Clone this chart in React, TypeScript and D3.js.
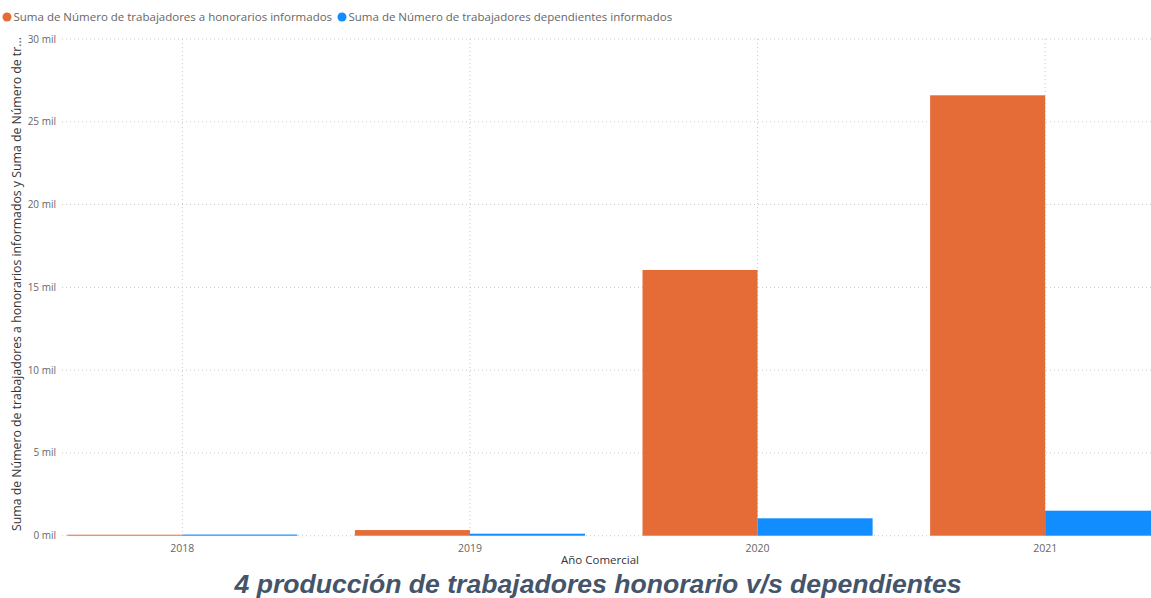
import React from "react";
import * as d3 from "d3";

const years = ["2018", "2019", "2020", "2021"];
const honorarios = [60, 340, 16050, 26600];
const dependientes = [70, 120, 1050, 1510];
const yTicks = [0, 5000, 10000, 15000, 20000, 25000, 30000];
const seriesNames = [
  "Suma de Número de trabajadores a honorarios informados",
  "Suma de Número de trabajadores dependientes informados",
];
const colors = ["#E66C37", "#118DFF"];

const W = 1151;
const H = 598;
const FONT = "'Segoe UI', 'Open Sans', 'Noto Sans', sans-serif";

export default function App() {
  const plotLeft = 62;
  const x = d3
    .scaleBand<string>()
    .domain(years)
    .range([38.5, 1189])
    .paddingInner(0.2)
    .paddingOuter(0.1);
  const y = d3.scaleLinear().domain([0, 30000]).range([535.7, 39]);
  const bw = x.bandwidth() / 2;
  const series = [honorarios, dependientes];

  return (
    <svg
      width={W}
      height={H}
      style={{ position: "absolute", left: 0, top: 0, background: "#fff" }}
      fontFamily={FONT}
    >
      {/* legend */}
      <g fontSize={11.5} fill="#666">
        <circle cx={7} cy={17} r={4.5} fill={colors[0]} />
        <text x={13.5} y={21}>{seriesNames[0]}</text>
        <circle cx={342} cy={17} r={4.5} fill={colors[1]} />
        <text x={348.5} y={21}>{seriesNames[1]}</text>
      </g>

      {/* horizontal gridlines */}
      {yTicks.map((t) => (
        <line
          key={"g" + t}
          x1={plotLeft}
          x2={W}
          y1={y(t)}
          y2={y(t)}
          stroke="#c8c8c8"
          strokeDasharray="1,3"
        />
      ))}
      {/* vertical gridlines */}
      {years.map((yr) => {
        const cx = (x(yr) as number) + x.bandwidth() / 2;
        return (
          <line
            key={"v" + yr}
            x1={cx}
            x2={cx}
            y1={y(30000)}
            y2={y(0)}
            stroke="#c8c8c8"
            strokeDasharray="1,3"
          />
        );
      })}

      {/* y tick labels */}
      <g fontSize={10} fill="#666" textAnchor="end">
        {yTicks.map((t) => (
          <text key={"t" + t} x={56} y={y(t) + 3.5}>
            {d3.format("d")(t / 1000) + " mil"}
          </text>
        ))}
      </g>

      {/* bars */}
      {series.map((vals, si) =>
        years.map((yr, i) => {
          const bx = (x(yr) as number) + si * bw;
          const top = y(vals[i]);
          return (
            <rect
              key={si + "-" + yr}
              x={bx}
              y={top}
              width={bw}
              height={y(0) - top}
              fill={colors[si]}
            />
          );
        })
      )}

      {/* x tick labels */}
      <g fontSize={10.5} fill="#666" textAnchor="middle">
        {years.map((yr) => (
          <text key={"x" + yr} x={(x(yr) as number) + x.bandwidth() / 2} y={552}>
            {yr}
          </text>
        ))}
      </g>

      {/* axis titles */}
      <text x={600} y={564} fontSize={11.5} fill="#333" textAnchor="middle">
        Año Comercial
      </text>
      <text
        transform={`translate(21, ${(535 + 33) / 2}) rotate(-90)`}
        fontSize={12.3}
        fill="#333"
        textAnchor="middle"
      >
        Suma de Número de trabajadores a honorarios informados y Suma de Número de tr...
      </text>

      {/* chart title */}
      <text
        x={598}
        y={593}
        fontSize={26.6}
        fontWeight="bold"
        fontStyle="italic"
        fill="#44546A"
        textAnchor="middle"
        fontFamily="'Liberation Sans', Arial, sans-serif"
      >
        4 producción de trabajadores honorario v/s dependientes
      </text>
    </svg>
  );
}
